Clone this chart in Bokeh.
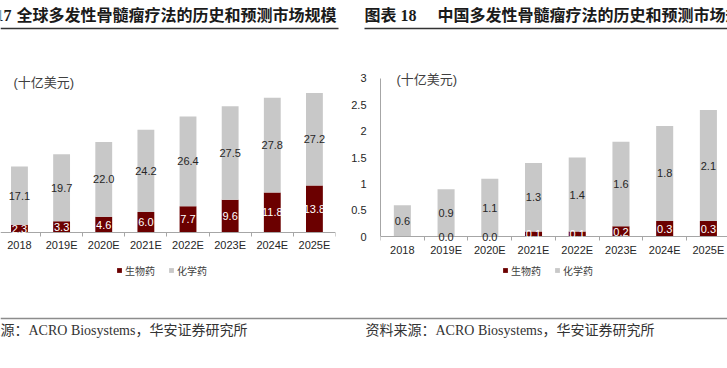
import math
from bokeh.plotting import figure
from bokeh.models import (ColumnDataSource, FixedTicker, Label, BoxAnnotation,
                          Legend, LegendItem, LabelSet, NumeralTickFormatter)
from bokeh.layouts import row, column
from bokeh.embed import file_html
from bokeh.resources import INLINE
from bokeh.core.properties import value, field

# ---------------- data ----------------
years = ["2018", "2019E", "2020E", "2021E", "2022E", "2023E", "2024E", "2025E"]
global_bio = [2.3, 3.3, 4.6, 6.0, 7.7, 9.6, 11.8, 13.8]
global_chem = [17.1, 19.7, 22.0, 24.2, 26.4, 27.5, 27.8, 27.2]
china_bio = [float("nan"), 0.0, 0.0, 0.1, 0.1, 0.2, 0.3, 0.3]
china_chem = [0.6, 0.9, 1.1, 1.3, 1.4, 1.6, 1.8, 2.1]
china_yticks = [0, 0.5, 1, 1.5, 2, 2.5, 3]

title_left_prefix = "图表 17"
title_left = "全球多发性骨髓瘤疗法的历史和预测市场规模"
title_right_prefix = "图表 18"
title_right = "中国多发性骨髓瘤疗法的历史和预测市场规模"
unit_text = "(十亿美元)"
bio_name = "生物药"
chem_name = "化学药"
source_text = "资料来源：ACRO Biosystems，华安证券研究所"

BIO = "#6b0000"
CHEM = "#c8c8c8"
AXIS = "#a6a6a6"
TXT = "#262626"
SANS = "Liberation Sans"
CJK = "Noto Sans CJK SC"
SERIF_CJK = "'Liberation Serif', 'Noto Sans CJK SC'"
SANS_CJK = "'Liberation Sans', 'Noto Sans CJK SC'"


def isnan(v):
    return isinstance(v, float) and math.isnan(v)


def blank(W, H):
    p = figure(width=W, height=H, x_range=(0, W), y_range=(0, H), title=None,
               toolbar_location=None, output_backend="svg",
               x_axis_location=None, y_axis_location=None,
               min_border_left=0, min_border_right=0,
               min_border_top=0, min_border_bottom=0)
    p.outline_line_color = None
    p.xgrid.visible = False
    p.ygrid.visible = False
    p.background_fill_color = "white"
    p.border_fill_color = "white"
    return p


def build(bio, chem, W, H, fl, fr, ft, fb, xr, yr, bw, yaxis, xfs):
    p = figure(width=W, height=H, x_range=xr, y_range=yr, title=None,
               toolbar_location=None, output_backend="svg",
               y_axis_location=("left" if yaxis else None),
               min_border_left=fl, min_border_right=fr,
               min_border_top=ft, min_border_bottom=fb)
    p.outline_line_color = None
    p.background_fill_color = "white"
    p.border_fill_color = "white"
    p.xgrid.visible = False
    p.ygrid.visible = False

    idx = list(range(len(years)))
    b0 = [0.0 if isnan(v) else v for v in bio]
    src = ColumnDataSource(dict(
        x=idx,
        bio=bio,
        bio_mid=[v / 2 for v in b0],
        chem_bot=b0,
        chem_top=[a + c for a, c in zip(b0, chem)],
        chem_mid=[a + c / 2 for a, c in zip(b0, chem)],
        bio_txt=["" if isnan(v) else f"{v:.1f}" for v in bio],
        chem_txt=[f"{v:.1f}" for v in chem],
        bio_col=["white" if v > 0 else TXT for v in b0],
    ))
    r_bio = p.vbar(x="x", bottom=0, top="bio", width=bw, source=src,
                   fill_color=BIO, line_color=None)
    r_chem = p.vbar(x="x", bottom="chem_bot", top="chem_top", width=bw, source=src,
                    fill_color=CHEM, line_color=None)

    p.add_layout(LabelSet(x="x", y="chem_mid", text="chem_txt", source=src,
                          text_align="center", text_baseline="middle",
                          text_font=value(SANS), text_font_size="11px",
                          text_color=TXT))
    p.add_layout(LabelSet(x="x", y="bio_mid", text="bio_txt", source=src,
                          text_align="center", text_baseline="middle",
                          text_font=value(SANS), text_font_size="11px",
                          text_color=field("bio_col")))

    ax = p.xaxis[0]
    ax.fixed_location = 0
    ax.ticker = FixedTicker(ticks=idx, minor_ticks=[i - 0.5 for i in range(len(years) + 1)])
    ax.major_label_overrides = {i: y for i, y in enumerate(years)}
    ax.major_tick_line_color = None
    ax.major_tick_out = 0
    ax.major_tick_in = 0
    ax.minor_tick_line_color = AXIS
    ax.minor_tick_out = 4
    ax.minor_tick_in = 0
    ax.axis_line_color = AXIS
    ax.major_label_standoff = 3
    ax.major_label_text_font = SANS
    ax.major_label_text_font_size = xfs
    ax.major_label_text_color = TXT

    if yaxis:
        ay = p.yaxis[0]
        ay.ticker = FixedTicker(ticks=china_yticks)
        ay.formatter = NumeralTickFormatter(format="0.[0]")
        ay.bounds = (0, 3)
        ay.major_tick_line_color = None
        ay.minor_tick_line_color = None
        ay.axis_line_color = AXIS
        ay.major_label_standoff = 8
        ay.major_label_text_font = SANS
        ay.major_label_text_font_size = "11px"
        ay.major_label_text_color = TXT
    return p, r_bio, r_chem


def lbl(p, x, y, text, font, size, color="#1a1a1a", align="left", bold=False):
    p.add_layout(Label(x=x, y=y, x_units="screen", y_units="screen", text=text,
                       text_font=font, text_font_size=size, text_color=color,
                       text_align=align, text_baseline="middle",
                       text_font_style=("bold" if bold else "normal")))


def hline(p, x0, x1, yc, th, color):
    p.add_layout(BoxAnnotation(left=x0, right=x1, top=yc + th / 2, bottom=yc - th / 2,
                               left_units="screen", right_units="screen",
                               top_units="screen", bottom_units="screen",
                               fill_color=color, fill_alpha=1, line_color=None))


def legend(p, rb, rc, loc):
    lg = Legend(items=[LegendItem(label=bio_name, renderers=[rb]),
                       LegendItem(label=chem_name, renderers=[rc])],
                location=loc, orientation="horizontal",
                glyph_width=6, glyph_height=6, label_height=10,
                label_text_font=CJK, label_text_font_size="10px",
                label_text_color="#404040", spacing=13, label_standoff=3,
                padding=0, margin=0, border_line_color=None,
                background_fill_alpha=0)
    p.add_layout(lg, "center")


W = 727
# ---------------- title strip ----------------
TH = 32
pt = blank(W, TH)
lbl(pt, 11, TH - 15, title_left_prefix, SERIF_CJK, "16px", align="right", bold=True)
lbl(pt, 16, TH - 15, title_left, SERIF_CJK, "16px", bold=True)
lbl(pt, 364, TH - 15, title_right_prefix, SERIF_CJK, "16px", bold=True)
lbl(pt, 437, TH - 15, title_right, SERIF_CJK, "16px", bold=True)
hline(pt, 0, 338, TH - 28, 1.5, "#333333")
hline(pt, 364, W, TH - 28, 1.5, "#333333")

# ---------------- charts ----------------
CH = 276  # page y 32 .. 308
# left: frame x 0..335, y page 62..278
pl, lb, lc = build(global_bio, global_chem, 345, CH, 0, 10, 30, 30,
                   (-0.45, 7.5), (-13.53, 50), 0.4, False, "11px")
lbl(pl, 13, 278 - 81.7, unit_text, SANS_CJK, "13px", color="#404040")
legend(pl, lb, lc, (116, 0.5))

# right: frame x page 380..727, y page 60..278
pr, rb, rc = build(china_bio, china_chem, 382, CH, 35, 0, 28, 30,
                   (-0.5, 7.437), (-0.7875, 3.3), 0.39, True, "11px")
lbl(pr, 396 - 380, 278 - 79, unit_text, SANS_CJK, "13px", color="#404040")
legend(pr, rb, rc, (502 - 380, 0.5))

# ---------------- footer strip ----------------
FH = 60  # page y 308 .. 368
pf = blank(W, FH)
hline(pf, 0, W, FH - 10, 1.5, "#8c8c8c")
lbl(pf, -42, FH - 22, source_text, SERIF_CJK, "14px", color="#333333")
lbl(pf, 365, FH - 22, source_text, SERIF_CJK, "14px", color="#333333")

layout = column(pt, row(pl, pr), pf)
open("out.html", "w").write(file_html(layout, INLINE))
